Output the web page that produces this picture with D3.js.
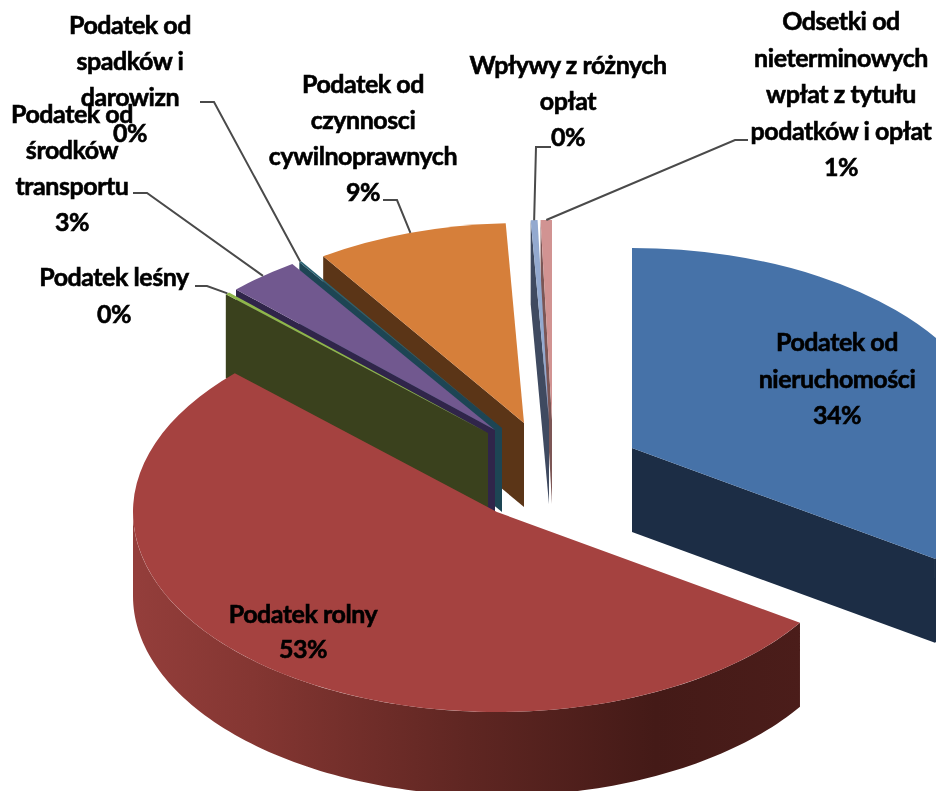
<!DOCTYPE html>
<html>
<head>
<meta charset="utf-8">
<script src="https://cdnjs.cloudflare.com/ajax/libs/d3/7.8.5/d3.min.js"></script>
<style>
  html, body { margin: 0; background: #fff; }
  svg { display: block; filter: blur(0.7px); }
  .label { font-family: Lato, "Open Sans", sans-serif; font-weight: 700; font-size: 25px; fill: #000; stroke: #000; stroke-width: 0.6px; text-anchor: middle; letter-spacing: -0.45px; }
  .leader { fill: none; stroke: #4a4a4a; stroke-width: 2px; }
</style>
</head>
<body>
<script>
'use strict'

const categories = ['nieruchomosci', 'rolny', 'lesny', 'transport', 'spadki', 'czynnosci', 'wplywy', 'odsetki']
const values = [34.35, 52.85, 0.2, 3.2, 0.1, 8.5, 0.3, 0.5]
const labelLines = [
  ['Podatek od', 'nieruchomości'],
  ['Podatek rolny'],
  ['Podatek leśny'],
  ['Podatek od', 'środków', 'transportu'],
  ['Podatek od', 'spadków i', 'darowizn'],
  ['Podatek od', 'czynnosci', 'cywilnoprawnych'],
  ['Wpływy z różnych', 'opłat'],
  ['Odsetki od', 'nieterminowych', 'wpłat z tytułu', 'podatków i opłat']
]
const topColors = ['#4672a8', '#a54240', '#8fb64a', '#71588f', '#2b6272', '#d67f3a', '#93a9cf', '#d19392']
const wallColors = ['#1c2d45', '#431a17', '#3a411d', '#30254a', '#1d4554', '#5b3517', '#3f4a60', '#7c5655']

// each slice is pulled out on its own, so apex is read per slice
const apexX = [632, 497, 488, 495, 502, 524, 549, 552]
const apexY = [448, 512, 433, 430, 428, 423, 420, 420]

const labelX = [837, 303, 114, 72, 130, 363, 568, 841]
const labelY = [351, 623, 286, 123, 34, 93, 74, 30]
const lineGap = [36.5, 35, 37, 36, 36, 36, 36, 36.5]

// leader line: where it leaves the label, and the elbow
const leaderFrom = [null, null, [195, 286], [133, 193], [200, 102], [383, 200], [551, 147], [748, 140]]
const leaderElbow = [null, null, [207, 286], [147, 193], [214, 102], [397, 200], [536, 147], [735, 140]]

const width = 936
const height = 791
const rx = 364
const ry = 200
const depth = 84

const svg = d3.select('body').append('svg')
  .attr('width', width)
  .attr('height', height)

const defs = svg.append('defs')
const redGradient = defs.append('linearGradient')
  .attr('id', 'rim-rolny')
  .attr('gradientUnits', 'userSpaceOnUse')
  .attr('x1', apexX[1] - rx).attr('x2', apexX[1] + rx * 0.84)
  .attr('y1', 0).attr('y2', 0)
redGradient.selectAll('stop')
  .data([[0, '#943e3b'], [0.18, '#843632'], [0.5, '#5f2622'], [0.78, '#441a17'], [1, '#4b1d1a']])
  .enter().append('stop')
  .attr('offset', d => d[0])
  .attr('stop-color', d => d[1])

const slices = d3.pie().sort(null).value(d => d)(values)
  .map((s, i) => Object.assign(s, { i, a: s.startAngle, b: s.endAngle }))

const topArc = d3.arc().innerRadius(0).outerRadius(ry)
const wallLine = d3.line()

function point (s, angle, drop) {
  return [apexX[s.i] + rx * Math.sin(angle), apexY[s.i] - ry * Math.cos(angle) + drop]
}

function edgeWall (s, angle) {
  const apex = [apexX[s.i], apexY[s.i]]
  const rim = point(s, angle, 0)
  return wallLine([apex, rim, [rim[0], rim[1] + depth], [apex[0], apex[1] + depth]]) + 'Z'
}

function rimWall (s) {
  const from = Math.max(s.a, Math.PI / 2)
  const to = Math.min(s.b, Math.PI * 1.5)
  if (to <= from) return null
  const angles = d3.range(0, 121).map(k => from + (to - from) * k / 120)
  const upper = angles.map(t => point(s, t, 0))
  const lower = angles.slice().reverse().map(t => point(s, t, depth))
  return wallLine(upper.concat(lower)) + 'Z'
}

function drawSlice (s) {
  const g = svg.append('g').attr('class', `slice-${categories[s.i]}`)
  const wallFill = s.i === 1 ? 'url(#rim-rolny)' : wallColors[s.i]

  // cut faces only show when they turn towards the viewer
  if (Math.sin(s.a) < 0) g.append('path').attr('d', edgeWall(s, s.a)).attr('fill', wallColors[s.i])
  if (Math.sin(s.b) > 0) g.append('path').attr('d', edgeWall(s, s.b)).attr('fill', wallColors[s.i])

  const rim = rimWall(s)
  if (rim) g.append('path').attr('d', rim).attr('fill', wallFill)

  g.append('path')
    .attr('d', topArc(s))
    .attr('transform', `translate(${apexX[s.i]},${apexY[s.i]}) scale(${rx / ry},1)`)
    .attr('fill', topColors[s.i])
}

// back to front
const paintOrder = [0, 7, 6, 5, 4, 3, 2, 1]
paintOrder.forEach(i => drawSlice(slices[i]))

const leaderPath = d3.line()
slices.forEach(s => {
  if (!leaderFrom[s.i]) return
  const end = point(s, (s.a + s.b) / 2, 0)
  svg.append('path')
    .attr('class', 'leader')
    .attr('d', leaderPath([leaderFrom[s.i], leaderElbow[s.i], end]))
})

const total = d3.sum(values)
slices.forEach(s => {
  const text = svg.append('text')
    .attr('class', 'label')
    .attr('x', labelX[s.i])
    .attr('y', labelY[s.i])
  const lines = labelLines[s.i].concat(`${Math.round(values[s.i] / total * 100)}%`)
  lines.forEach((line, k) => {
    text.append('tspan')
      .attr('x', labelX[s.i])
      .attr('y', labelY[s.i] + k * lineGap[s.i])
      .text(line)
  })
})
</script>
</body>
</html>
